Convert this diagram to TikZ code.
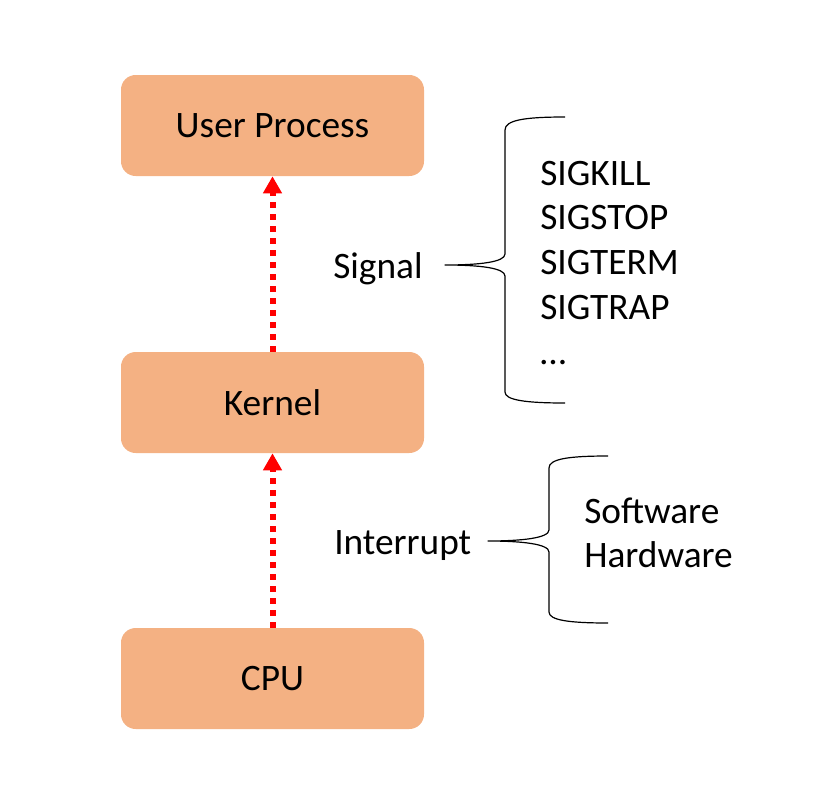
\documentclass[tikz,border=0pt]{standalone}
\usepackage{fontspec}
\setmainfont{Carlito}
\usetikzlibrary{arrows.meta}
\usetikzlibrary{positioning}
\definecolor{boxfill}{HTML}{F4B183}
\tikzset{layer/.style={draw=none,fill=boxfill,rounded corners=11pt,
                       minimum width=227.25pt,minimum height=75.75pt},
         label/.style={anchor=base west,inner sep=0pt},
         pass/.style={red,line width=4.5pt,dash pattern=on 4.5pt off 4.5pt,
                      -{Triangle[width=13.5pt,length=12.75pt]}},
         brace/.style={draw,line width=0.9pt,line join=round},
         }
\begin{document}
\begin{tikzpicture}[x=0.75pt,y=-0.75pt,
	every node/.style={font=\fontsize{28}{33.6}\selectfont}]
\useasboundingbox (0,0) rectangle (833,808);
% layers
\node[layer] (user) at (272.5,125.5) {User Process};
\node[layer] (kernel) at (272.5,402.5) {Kernel};
\node[layer] (cpu) at (272.5,678.5) {CPU};
\draw[pass] (cpu.north) -- (kernel.south);
\draw[pass] (kernel.north) -- (user.south);
% signal
\node[label] (signal) at (333,278) {Signal};
\coordinate (sigtip) at (445,265);
\path[brace] (565,117) .. controls (525,117) and (505,120) .. (505,130)
    -- (505,254) .. controls (505,262) and (480,265) .. (sigtip)
    .. controls (480,265) and (505,268) .. (505,276)
    -- (505,392) .. controls (505,400) and (525,403) .. (565,403);
\foreach \s [count=\i] in {SIGKILL,SIGSTOP,SIGTERM,SIGTRAP,…}
    \node[label] (sig\i) at (540,{185+44.75*(\i-1)}) {\s};
% interrupt
\node[label] (interrupt) at (334,554) {Interrupt};
\coordinate (inttip) at (488,541);
\path[brace] (608,456) .. controls (568,456) and (549,459) .. (549,468)
    -- (549,530) .. controls (549,538) and (522,541) .. (inttip)
    .. controls (522,541) and (549,544) .. (549,552)
    -- (549,612) .. controls (549,620) and (568,623) .. (608,623);
\node[label] (software) at (584,523) {Software};
\node[label] (hardware) at (584,567) {Hardware};
\end{tikzpicture}
\end{document}
